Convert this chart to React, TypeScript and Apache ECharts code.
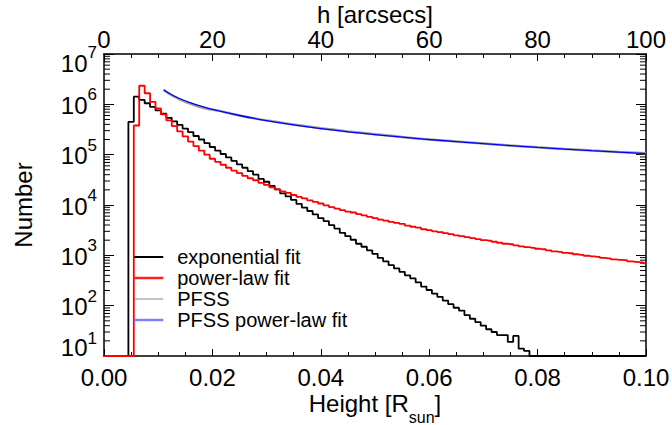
import React, { useEffect, useRef } from "react";
import * as echarts from "echarts";

const FONT = "'Liberation Sans', Arial, Helvetica, sans-serif";

// bin width of the histograms in R_sun (bin centres 0.000 ... 0.100)
const BIN_WIDTH = 0.001;

const exponentialFit = [
  10, 10, 10, 10, 10, 4.5e5, 1.42e6, 1.23e6, 1.05e6, 8.9e5,
  7.6e5, 6.5e5, 5.4e5, 4.6e5, 3.9e5, 3.3e5, 2.8e5, 2.35e5, 2.0e5, 1.7e5,
  1.42e5, 1.2e5, 1.03e5, 8.8e4, 7.5e4, 6.4e4, 5.5e4, 4.7e4, 4.0e4, 3.3e4,
  2.9e4, 2.4e4, 2.04e4, 1.7e4, 1.48e4, 1.26e4, 1.05e4, 8.9e3, 7.6e3, 6.5e3,
  5.5e3, 4.8e3, 4.0e3, 3.4e3, 2.8e3, 2.4e3, 2.04e3, 1.7e3, 1.48e3, 1.26e3,
  1070, 890, 760, 640, 550, 470, 400, 350, 290, 240,
  205, 174, 150, 126, 107, 91, 80, 65, 55, 47,
  40, 34, 30, 26, 26, 19, 25, 14, 12.6, 10,
  10, 10, 10, 10, 10, 10, 10, 10, 10, 10,
  10, 10, 10, 10, 10, 10, 10, 10, 10, 10,
  10,
];

const powerLawFit = [
  10, 10, 10, 10, 10, 10, 3.8e5, 2.34e6, 1.66e6, 1.12e6,
  8.3e5, 6.3e5, 4.8e5, 3.7e5, 2.9e5, 2.3e5, 1.82e5, 1.48e5, 1.2e5, 1.0e5,
  8.3e4, 7.2e4, 6.3e4, 5.5e4, 4.8e4, 4.3e4, 3.8e4, 3.4e4, 3.1e4, 2.75e4,
  2.5e4, 2.24e4, 2.04e4, 1.86e4, 1.74e4, 1.58e4, 1.45e4, 1.35e4, 1.23e4, 1.15e4,
  1.07e4, 9.8e3, 9.1e3, 8.5e3, 7.9e3, 7.4e3, 7.1e3, 6.6e3, 6.2e3, 5.8e3,
  5.5e3, 5.1e3, 4.9e3, 4.6e3, 4.4e3, 4.2e3, 3.9e3, 3.7e3, 3.55e3, 3.3e3,
  3.16e3, 3.0e3, 2.9e3, 2.75e3, 2.63e3, 2.5e3, 2.4e3, 2.3e3, 2.2e3, 2.1e3,
  2.0e3, 1.95e3, 1.86e3, 1.78e3, 1.7e3, 1.66e3, 1.58e3, 1.51e3, 1.45e3, 1.41e3,
  1.35e3, 1.32e3, 1.26e3, 1.2e3, 1.17e3, 1.12e3, 1.1e3, 1.05e3, 1.02e3, 980,
  955, 930, 890, 870, 830, 815, 800, 760, 740, 725,
  690,
];

const pfssH = [
  0.011, 0.013, 0.015, 0.017, 0.019, 0.021, 0.023, 0.025, 0.028, 0.031,
  0.034, 0.037, 0.04, 0.045, 0.05, 0.055, 0.06, 0.065, 0.07, 0.075,
  0.08, 0.085, 0.09, 0.095, 0.1,
];
const pfssN = [
  1.92e6, 1.42e6, 1.12e6, 9.4e5, 8.2e5, 7.5e5, 6.7e5, 6.0e5, 5.2e5, 4.6e5,
  4.1e5, 3.7e5, 3.35e5, 2.9e5, 2.55e5, 2.25e5, 2.0e5, 1.83e5, 1.67e5, 1.52e5,
  1.4e5, 1.3e5, 1.21e5, 1.13e5, 1.07e5,
];

const pfssFitH = [
  0.011, 0.012, 0.013, 0.014, 0.016, 0.018, 0.02, 0.025, 0.03, 0.035,
  0.04, 0.05, 0.06, 0.07, 0.08, 0.09, 0.1,
];
const pfssFitN = [
  1.95e6, 1.66e6, 1.45e6, 1.29e6, 1.07e6, 9.1e5, 7.9e5, 6.0e5, 4.75e5, 3.9e5,
  3.3e5, 2.5e5, 2.0e5, 1.65e5, 1.39e5, 1.2e5, 1.05e5,
];

const seriesNames = ["exponential fit", "power-law fit", "PFSS", "PFSS power-law fit"];

const yDecades = [1, 2, 3, 4, 5, 6];
const minorMultipliers = [2, 3, 4, 5, 6, 7, 8, 9];

export default function App() {
  const ref = useRef<HTMLDivElement>(null);

  useEffect(() => {
    if (!ref.current) return;
    const chart = echarts.init(ref.current, undefined, { renderer: "svg" });

    const histPairs = (vals: number[]) => vals.map((v, i) => [i * BIN_WIDTH, v]);
    const minorTicks: number[][] = [];
    yDecades.forEach((d) =>
      minorMultipliers.forEach((m) => minorTicks.push([0.05, m * Math.pow(10, d)]))
    );

    const axisLineStyle = { color: "#000", width: 1.5 };
    const xCommon = {
      type: "value",
      nameMoveOverlap: false,
      axisLine: { show: true, onZero: false, lineStyle: axisLineStyle },
      axisTick: { show: true, inside: true, length: 7, lineStyle: { color: "#000", width: 1 } },
      minorTick: { show: true, splitNumber: 4, length: 4, lineStyle: { color: "#000", width: 1 } },
      splitLine: { show: false },
      minorSplitLine: { show: false },
    };

    const bStyle = (lh: number, pt: number) => ({
      fontSize: 24, lineHeight: lh, padding: [pt, 0, 0, 0], verticalAlign: "top", color: "#000", fontFamily: FONT,
    });
    const sStyle = (pt: number) => ({
      fontSize: 17, lineHeight: 16, padding: [pt, 0, 0, 0], verticalAlign: "top", color: "#000", fontFamily: FONT,
    });
    const yRich = {
      b: bStyle(40, 9),
      s: sStyle(2),
      bMax: bStyle(40, 17),
      sMax: sStyle(10),
      bMin: bStyle(60, 9),
      sMin: sStyle(4),
    };
    const yLabel = (v: number) => {
      const e = Math.round(Math.log10(v));
      if (e >= 7) return `{bMax|10}{sMax|${e}}`;
      if (e <= 1) return `{bMin|10}{sMin|${e}}`;
      return `{b|10}{s|${e}}`;
    };

    const option: any = {
      animation: false,
      backgroundColor: "#ffffff",
      textStyle: { fontFamily: FONT, color: "#000" },
      grid: { left: 104, right: 26, top: 54, bottom: 69, containLabel: false, outerBoundsMode: "none" },
      legend: {
        orient: "vertical",
        left: 133,
        top: 247,
        padding: 0,
        itemGap: 1,
        itemWidth: 29,
        itemHeight: 12,
        selectedMode: false,
        textStyle: { fontSize: 20, color: "#000", fontFamily: FONT, lineHeight: 20, padding: [0, 0, 0, 9] },
        data: [
          { name: seriesNames[0], lineStyle: { color: "#000000", width: 2 }, itemStyle: { opacity: 0 } },
          { name: seriesNames[1], lineStyle: { color: "#ff2020", width: 2.5 }, itemStyle: { opacity: 0 } },
          { name: seriesNames[2], lineStyle: { color: "#888888", width: 1 }, itemStyle: { opacity: 0 } },
          { name: seriesNames[3], lineStyle: { color: "#7f7fff", width: 2.5 }, itemStyle: { opacity: 0 } },
        ],
      },
      xAxis: [
        {
          ...xCommon,
          position: "bottom",
          min: 0,
          max: 0.1,
          interval: 0.02,
          axisLabel: { fontSize: 24, lineHeight: 18, color: "#000", margin: 12, fontFamily: FONT, formatter: (v: number) => v.toFixed(2) },
          name: "{a|Height [R}{s|sun}{a|]}",
          nameLocation: "middle",
          nameGap: 35,
          nameTextStyle: {
            rich: {
              a: { fontSize: 24, lineHeight: 20, verticalAlign: "top", color: "#000", fontFamily: FONT },
              s: { fontSize: 16, lineHeight: 12, padding: [18, 0, 0, 0], verticalAlign: "top", color: "#000", fontFamily: FONT },
            },
          },
        },
        {
          ...xCommon,
          position: "top",
          min: 0,
          max: 100,
          interval: 20,
          axisLabel: { fontSize: 24, lineHeight: 18, color: "#000", margin: 6, fontFamily: FONT },
          name: "h [arcsecs]",
          nameLocation: "middle",
          nameGap: 31,
          nameTextStyle: { fontSize: 24, lineHeight: 18, color: "#000", fontFamily: FONT },
        },
      ],
      yAxis: [
        {
          type: "log",
          logBase: 10,
          min: 10,
          max: 1e7,
          splitNumber: 6,
          position: "left",
          nameMoveOverlap: false,
          axisLine: { show: true, onZero: false, lineStyle: axisLineStyle },
          axisTick: { show: true, inside: true, length: 10, lineStyle: { color: "#000", width: 1 } },
          splitLine: { show: false },
          axisLabel: { margin: 7, formatter: yLabel, rich: yRich },
          name: "Number",
          nameLocation: "middle",
          nameGap: 69,
          nameTextStyle: { fontSize: 24, color: "#000", fontFamily: FONT },
        },
        {
          type: "log",
          logBase: 10,
          min: 10,
          max: 1e7,
          splitNumber: 6,
          position: "right",
          axisLine: { show: true, onZero: false, lineStyle: axisLineStyle },
          axisTick: { show: true, inside: true, length: 10, lineStyle: { color: "#000", width: 1 } },
          splitLine: { show: false },
          axisLabel: { show: false },
        },
      ],
      series: [
        {
          type: "custom",
          silent: true,
          clip: false,
          xAxisIndex: 0,
          yAxisIndex: 0,
          encode: { x: 0, y: 1 },
          data: minorTicks,
          renderItem: (params: any, api: any) => {
            const p = api.coord([api.value(0), api.value(1)]);
            const cs = params.coordSys;
            const st = { stroke: "#000", lineWidth: 1 };
            return {
              type: "group",
              children: [
                { type: "line", shape: { x1: cs.x, y1: p[1], x2: cs.x + 6, y2: p[1] }, style: st },
                { type: "line", shape: { x1: cs.x + cs.width - 6, y1: p[1], x2: cs.x + cs.width, y2: p[1] }, style: st },
              ],
            };
          },
        },
        {
          name: seriesNames[0],
          type: "line",
          step: "middle",
          symbol: "none",
          xAxisIndex: 0,
          yAxisIndex: 0,
          data: histPairs(exponentialFit),
          lineStyle: { color: "#000", width: 1.8 },
          itemStyle: { color: "#000" },
        },
        {
          name: seriesNames[1],
          type: "line",
          step: "middle",
          symbol: "none",
          xAxisIndex: 0,
          yAxisIndex: 0,
          data: histPairs(powerLawFit),
          lineStyle: { color: "#ff0000", width: 1.8 },
          itemStyle: { color: "#ff0000" },
        },
        {
          name: seriesNames[2],
          type: "line",
          symbol: "none",
          smooth: 0.3,
          xAxisIndex: 0,
          yAxisIndex: 0,
          data: pfssH.map((h, i) => [h, pfssN[i]]),
          lineStyle: { color: "#a0a0a0", width: 2.5 },
          itemStyle: { color: "#a0a0a0" },
        },
        {
          name: seriesNames[3],
          type: "line",
          symbol: "none",
          smooth: 0.4,
          xAxisIndex: 0,
          yAxisIndex: 0,
          data: pfssFitH.map((h, i) => [h, pfssFitN[i]]),
          lineStyle: { color: "#0000ff", width: 1.3 },
          itemStyle: { color: "#0000ff" },
        },
      ],
    };

    chart.setOption(option);
    return () => chart.dispose();
  }, []);

  return (
    <div
      ref={ref}
      style={{ position: "fixed", left: 0, top: 0, width: 672, height: 425, background: "#fff" }}
    />
  );
}
